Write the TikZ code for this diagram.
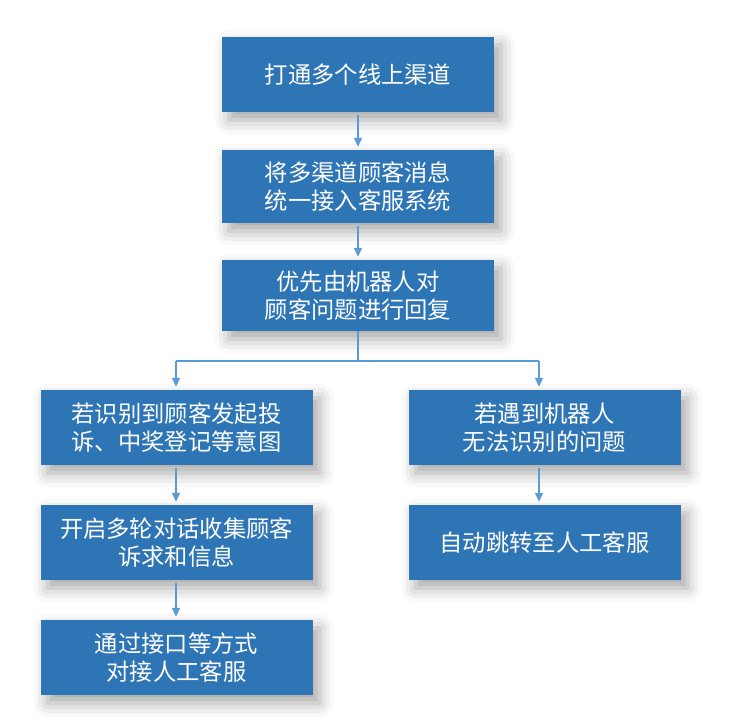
\documentclass[tikz,border=0pt]{standalone}
\usepackage{fontspec}
\setmainfont{Noto Sans CJK SC}
\usepackage{tikz}
\usetikzlibrary{arrows.meta,shadows.blur}
\definecolor{cBlue}{HTML}{2E75B6}
\definecolor{cArrow}{HTML}{5B9BD5}
\tikzset{
  fbox/.style={fill=cBlue,text=white,align=center,minimum width=272pt,minimum height=75pt,inner sep=0pt,
    font=\fontsize{23.3}{27.5}\selectfont,
    blur shadow={shadow xshift=7pt,shadow yshift=-8pt,shadow blur radius=14pt,shadow opacity=35}},
  link/.style={line width=1.6pt,color=cArrow},
  arr/.style={link,-{Triangle[length=9pt,width=8pt]},shorten <=3pt,shorten >=3pt},
}
\begin{document}
\begin{tikzpicture}[x=1pt,y=-1pt]
  \useasboundingbox (0,0) rectangle (731,726);
  % main trunk
  \node[fbox]                    (n1) at (358,74.5)  {打通多个线上渠道};
  \node[fbox,minimum height=73pt] (n2) at (358,186.5) {将多渠道顾客消息\\统一接入客服系统};
  \node[fbox,minimum height=71pt] (n3) at (358,295.5) {优先由机器人对\\顾客问题进行回复};
  % left branch
  \node[fbox] (l1) at (176.5,427.5) {若识别到顾客发起投\\诉、中奖登记等意图};
  \node[fbox] (l2) at (176.5,542.5) {开启多轮对话收集顾客\\诉求和信息};
  \node[fbox] (l3) at (176.5,657.5) {通过接口等方式\\对接人工客服};
  % right branch
  \node[fbox] (r1) at (544.5,427.5) {若遇到机器人\\无法识别的问题};
  \node[fbox] (r2) at (544.5,542.5) {自动跳转至人工客服};
  \coordinate (jm) at (358,361);
  \coordinate (jl) at (176,361);
  \coordinate (jr) at (539,361);
  \draw[arr] (n1) -- (n2);
  \draw[arr] (n2) -- (n3);
  \draw[link] (n3.south) -- (jm);
  \draw[link] (jl) -- (jr);
  \draw[arr,shorten <=0pt] (jl) -- (jl |- l1.north);
  \draw[arr,shorten <=0pt] (jr) -- (jr |- r1.north);
  \draw[arr] (l1.south -| jl) -- (l2.north -| jl);
  \draw[arr] (l2.south -| jl) -- (l3.north -| jl);
  \draw[arr] (r1.south -| jr) -- (r2.north -| jr);
\end{tikzpicture}
\end{document}
